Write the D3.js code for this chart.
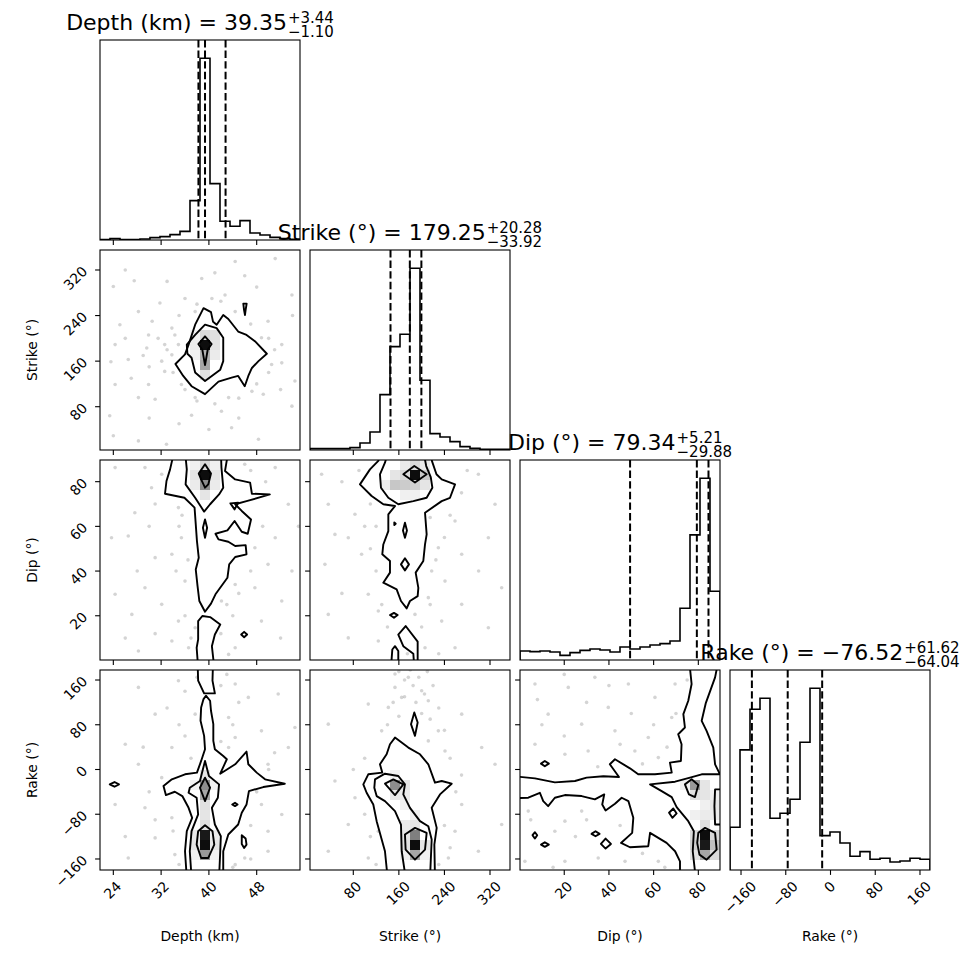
<!DOCTYPE html>
<html><head><meta charset="utf-8">
<script src="https://cdn.jsdelivr.net/npm/d3@7"></script>
<style>body{margin:0;background:#fff}text{font-family:"DejaVu Sans",sans-serif;fill:#000}</style>
</head><body>
<svg id="chart" width="970" height="970"></svg>
<script>
// ---------------- data ----------------
const varNames = ["Depth (km)", "Strike (°)", "Dip (°)", "Rake (°)"];
const varRanges = [[21.77, 55.25], [4.0, 355.1], [0.2, 89.7], [-179.7, 177.9]];
const tickVals = [[24, 32, 40, 48], [80, 160, 240, 320], [20, 40, 60, 80], [-160, -80, 0, 80, 160]];
const tickLabels = [["24", "32", "40", "48"], ["80", "160", "240", "320"], ["20", "40", "60", "80"], ["−160", "−80", "0", "80", "160"]];
const medians = [39.35, 179.25, 79.34, -76.52];
const errPlus = [3.44, 20.28, 5.21, 61.62];
const errMinus = [1.10, 33.92, 29.88, 64.04];
const medianText = ["39.35", "179.25", "79.34", "−76.52"];
const plusText = ["3.44", "20.28", "5.21", "61.62"];
const minusText = ["1.10", "33.92", "29.88", "64.04"];

const histDepth  = [1, 4, 1, 1, 3, 7, 10, 16, 26, 118, 545, 169, 56, 41, 58, 21, 15, 8, 4, 2];
const histStrike = [4, 4, 4, 4, 7, 21, 54, 166, 310, 347, 545, 209, 49, 39, 25, 10, 5, 2, 2, 2];
const histDip    = [27, 25, 27, 24, 14, 22, 29, 33, 30, 24, 39, 33, 39, 45, 49, 57, 155, 375, 545, 206];
const histRake   = [128, 360, 482, 515, 155, 170, 212, 383, 545, 103, 114, 81, 41, 55, 32, 35, 24, 27, 35, 32];

// scatter samples (x value, y value)
const ptsDepthStrike = [[26.0,320],[27.5,301],[24.0,291],[28.2,247],[25.1,224],[24.3,189],[23.6,159],[26.5,163],[29.6,183],[32.6,189],[34.3,206],[32.6,142],[29.9,119],[24.3,119],[28.2,96],[23.4,64],[24.0,29],[28.2,20],[32.9,14],[37.1,65],[43.8,43],[48.3,23],[53.9,81],[54.4,125],[52.2,189],[53.9,276],[51.1,340],[44.4,335],[38.8,305],[42.7,276],[36.0,270],[31.8,262],[49.9,230],[52.2,157],[49.1,102],[42.1,72],[31.0,93],[33.8,171],[34.9,189],[32.1,160],[35.4,119],[37.7,96],[43.3,96],[47.2,107],[50.5,154],[48.8,201],[44.4,247],[37.7,247],[40.5,270],[33.8,218],[29.9,206],
  [30.5,230],[31.5,200],[33.0,180],[34.0,140],[36.0,110],[38.0,90],[41.0,85],[45.0,95],[48.0,120],[50.0,140],[51.0,180],[50.0,200],[47.0,225],[42.0,265],[38.0,260],[35.0,240],[30.0,150],[27.0,130],[26.0,200],[29.0,170],[52.0,110],[45.0,60],[35.0,50],[40.0,40],[30.0,60],[48.0,290],[33.0,300],[46.0,310],[41.0,315],[54.0,240]];
const ptsDepthDip = [[24.3,86.3],[30.4,77.3],[27.6,66.1],[23.7,54.9],[26.5,55.7],[31.0,46.0],[33.8,47.5],[29.3,32.5],[24.3,29.6],[27.1,20.6],[32.1,25.1],[34.9,17.6],[33.8,8.7],[28.2,4.2],[36.6,5.7],[44.4,5.7],[48.8,17.6],[52.2,26.6],[53.9,40.0],[51.1,54.9],[53.3,69.9],[51.1,86.3],[46.0,87.8],[47.7,50.4],[44.4,34.0],[42.1,26.6],[36.0,35.5],[35.4,54.9],[34.9,68.4],[32.1,83.3],[29.3,86.3],[49.9,43.0],[47.7,32.5],[37.7,14.6],[43.3,2.7],
  [35.0,60],[34.5,40],[36.0,20],[37.0,10],[42.0,12],[43.0,25],[45.0,30],[36.5,45],[35.5,65],[42.0,65],[43.0,45],[44.0,20],[47.0,40],[49.0,60],[49.5,80],[31.0,70],[30.0,60],[28.0,40],[26.0,10],[31.0,12],[45.0,75],[47.0,85],[52.0,10],[55.0,60],[40.0,2]];
const ptsStrikeDip = [[24.4,83.3],[36.1,69.9],[47.8,56.4],[30.2,43.0],[71.2,54.9],[94.6,47.5],[106.3,29.6],[36.1,20.6],[71.2,10.1],[123.9,8.7],[123.9,22.1],[188.3,20.6],[211.7,28.1],[241.0,35.5],[270.3,47.5],[317.1,54.9],[328.8,69.9],[299.6,83.3],[258.6,62.4],[229.3,50.4],[217.6,40.0],[270.3,25.1],[317.1,14.6],[258.6,5.7],[205.9,5.7],[164.9,32.5],[82.9,65.4],[340.5,32.5],[235.2,17.6],[153.2,47.5],
  [100,60],[110,50],[120,40],[130,25],[140,15],[180,10],[200,15],[215,25],[225,45],[240,55],[250,65],[270,75],[280,85],[110,70],[90,85],[60,80],[150,2],[175,3],[230,3],[300,40],[120,60],[200,60],[215,64],[185,50],[60,30]];
const ptsDepthRake = [[28.2,146.8],[34.9,158.8],[44.4,152.8],[51.6,134.9],[31.0,99.0],[43.3,93.0],[48.8,69.1],[26.0,45.2],[33.8,39.2],[44.4,57.1],[49.9,9.3],[28.2,9.3],[24.3,-62.5],[29.3,-68.5],[33.8,-86.4],[31.0,-122.3],[34.3,-152.2],[26.5,-158.2],[46.0,-158.2],[49.9,-146.2],[52.2,-80.4],[48.8,-62.5],[43.3,39.2],[37.7,99.0],[46.6,128.9],[54.4,75.1],[49.9,-110.3],[32.1,-14.6],[53.3,39.2],[44.4,-170.1],
  [35,80],[36,60],[37,20],[42,50],[44,80],[45,120],[42,150],[36,140],[33,110],[30,-40],[31,-90],[34,-110],[35,-170],[38,-175],[44,-175],[47,-100],[48,-40],[50,0],[51,30],[44,-30],[47,-160],[29,40],[38,165],[43,170],[26,-120]];
const ptsStrikeRake = [[176.6,164.8],[153.2,146.8],[200.0,140.9],[141.5,111.0],[211.7,122.9],[188.3,69.1],[106.3,116.9],[36.1,81.1],[270.3,99.0],[305.4,39.2],[241.0,33.2],[47.8,-20.6],[83.0,-50.5],[71.2,-98.4],[36.1,-146.2],[106.3,-158.2],[270.3,-62.5],[258.6,-110.3],[299.6,-146.2],[340.5,-98.4],[328.8,9.3],[129.8,69.1],[229.3,69.1],[246.9,-158.2],[123.9,-110.3],[211.7,51.1],[164.9,128.9],[153.2,170.8],
  [160,175],[170,160],[185,150],[195,165],[210,175],[220,150],[170,130],[150,120],[200,100],[230,110],[190,120],[215,90],[160,95],[140,80],[240,70],[250,20],[100,20],[80,0],[260,-40],[270,-10],[100,-80],[110,-120],[240,-100],[250,-140],[120,-170],[230,-170],[180,178],[205,135]];
const ptsDipRake = [[6.9,152.8],[21.8,146.8],[33.7,164.8],[48.7,152.8],[60.6,128.9],[68.1,93.0],[12.8,99.0],[27.8,81.1],[42.7,69.1],[57.6,57.1],[6.9,45.2],[20.3,27.2],[30.7,33.2],[51.6,33.2],[62.1,21.3],[3.9,-74.4],[20.3,-92.4],[27.8,-74.4],[2.4,-164.2],[20.3,-164.2],[35.2,-158.2],[47.2,-164.2],[62.1,-164.2],[57.6,-92.4],[15.8,-110.3],[81.5,39.2],[80.0,99.0],[86.6,152.8],[69.6,152.8],[39.7,111.0],
  [10,80],[20,60],[30,120],[40,150],[50,100],[60,80],[66,40],[5,-90],[25,-120],[45,-100],[55,-150],[65,-175],[15,-175],[30,-90],[70,100],[75,160],[85,175],[20,170],[8,125],[35,5],[55,10],[45,45]];

// 2D histogram density cells: [x bin, y bin, darkness]
const cellsDepthStrike = [[10,10,0.95],[10,9,0.3],[10,8,0.35],[10,7,0.12],[10,11,0.15],[11,11,0.12],[11,10,0.1],[11,9,0.08],[9,10,0.08],[9,9,0.06],[9,11,0.05]];
const cellsDepthDip = [[10,18,0.95],[10,17,0.45],[10,19,0.15],[10,16,0.1],[9,18,0.1],[11,18,0.1],[9,17,0.08],[11,17,0.08],[9,19,0.06],[11,19,0.06]];
const cellsStrikeDip = [[10,18,0.95],[8,17,0.22],[9,17,0.2],[10,17,0.18],[11,18,0.22],[9,18,0.15],[10,19,0.15],[11,17,0.1],[8,18,0.1],[7,17,0.08],[9,19,0.08],[11,19,0.08],[9,16,0.06],[10,16,0.06]];
const cellsDepthRake = [[10,2,0.95],[10,3,0.9],[10,1,0.4],[10,4,0.12],[10,5,0.1],[10,6,0.12],[10,7,0.35],[10,8,0.45],[10,9,0.1],[9,2,0.1],[11,2,0.1],[9,3,0.08],[11,3,0.08],[9,1,0.06],[11,1,0.06],[9,8,0.06],[11,8,0.06]];
const cellsStrikeRake = [[10,2,0.95],[10,3,0.5],[10,1,0.35],[9,2,0.12],[11,2,0.1],[9,3,0.1],[10,4,0.1],[9,4,0.08],[8,8,0.45],[8,7,0.1],[9,8,0.1],[8,9,0.06],[9,7,0.08],[9,6,0.06],[10,5,0.06],[11,1,0.06],[9,1,0.06]];
const cellsDipRake = [[18,3,0.95],[18,2,0.9],[18,1,0.35],[17,2,0.2],[19,2,0.25],[17,3,0.15],[19,3,0.15],[19,1,0.15],[17,1,0.12],[18,4,0.12],[17,8,0.4],[17,7,0.12],[18,8,0.1],[18,7,0.1],[19,6,0.1],[19,5,0.08],[17,5,0.06],[18,5,0.08],[18,6,0.06],[16,8,0.06],[19,7,0.06]];

// contour rings: [level, vertices in data units]
const contDepthStrike = [
  [1, [[39.1,253],[40.35,246],[40.7,229],[41.3,224],[42.4,241],[43.25,234],[44.9,212],[46.3,206],[47.7,195],[49.7,173],[48.3,160],[47.2,148],[46.6,134],[46.0,116],[44.9,134],[43.8,131],[41.6,124],[39.35,102],[37.1,116],[35.7,134],[34.4,155],[36.0,172],[36.6,189],[37.7,224]]],
  [1, [[45.76,261],[46.32,261],[46.15,250],[46.04,241],[45.88,250]]],
  [2, [[39.35,224],[41.3,218],[42.4,201],[42.4,160],[41.9,145],[39.35,125],[37.7,140],[37.1,166],[36.4,173],[36.3,189],[37.7,206]]],
  [3, [[39.35,203.5],[40.46,190],[39.8,180],[39.35,153],[38.9,180],[38.23,190]]]
];
const contDepthDip = [
  [1, [[34.2,93.7],[33.5,85.5],[32.9,80.3],[32.65,74.6],[35.9,72.8],[37.6,68.4],[37.8,60.9],[38.0,53.4],[38.3,46.0],[37.8,40.7],[38.1,33.3],[38.4,26.6],[39.35,21.8],[40.35,25.4],[41.1,29.6],[43.1,37.0],[43.4,43.0],[44.4,46.3],[46.3,47.5],[46.15,51.6],[44.4,51.2],[43.25,53.1],[41.6,54.2],[41.1,56.7],[43.1,58.2],[44.3,62.4],[45.5,57.6],[46.5,56.7],[47.05,63.1],[45.5,66.9],[44.4,69.9],[46.3,71.3],[50.2,74.3],[47.2,74.6],[46.9,79.6],[44.4,81.0],[42.7,84.8],[43.25,93.7]]],
  [1, [[38.2,-3.3],[37.95,5.7],[38.2,9.4],[38.2,17.6],[38.9,19.9],[40.2,19.4],[41.9,16.1],[41.0,11.6],[40.5,6.4],[40.9,-3.3]]],
  [1, [[45.4,11.6],[45.9,12.8],[46.4,11.6],[45.9,10.4]]],
  [2, [[36.0,93.7],[36.3,85.5],[36.1,78.8],[37.7,72.8],[39.2,66.6],[40.2,69.9],[41.7,74.3],[42.4,77.3],[42.25,81.8],[42.1,86.3],[42.0,93.7]]],
  [2, [[39.35,63.1],[39.7,59.4],[39.35,54.9],[39.0,59.4]]],
  [2, [[43.6,70.3],[44.9,70.6],[44.3,67.6]]],
  [3, [[39.35,87.8],[40.35,83.6],[39.9,78.8],[39.35,77.3],[38.7,81.0],[38.3,83.6]]]
];
const contStrikeDip = [
  [1, [[129.8,93.7],[123.9,89.3],[109.3,85.5],[91.7,78.8],[112.2,73.6],[132.7,69.9],[153.2,69.1],[141.5,65.4],[141.5,57.9],[132.7,51.9],[130.9,47.5],[144.4,44.5],[144.4,39.3],[132.7,34.8],[156.1,31.8],[163.7,26.6],[173.7,23.3],[179.5,26.6],[193.0,28.8],[194.2,32.5],[189.5,39.3],[202.9,44.5],[205.9,51.9],[208.8,56.4],[205.9,66.1],[235.2,71.3],[249.8,72.8],[258.6,78.8],[235.2,81.0],[226.0,83.3],[218.0,89.3],[218.0,93.7]]],
  [1, [[144.4,20.3],[151.4,21.3],[157.9,20.3],[151.4,19.1]]],
  [1, [[159.0,11.6],[171.9,15.4],[193.0,8.4],[193.0,-3.3],[187.1,-3.3],[185.4,3.0],[167.8,6.4]]],
  [1, [[146.2,-3.3],[148.5,4.9],[153.2,6.4],[159.0,4.2],[159.0,-3.3]]],
  [2, [[141.5,93.7],[135.6,88.5],[126.8,83.3],[128.6,77.3],[141.5,72.8],[159.0,69.9],[185.4,71.3],[208.8,72.8],[218.8,77.3],[216.0,82.0],[208.0,87.0],[203.0,93.7]]],
  [2, [[152.0,61.8],[154.5,61.2],[152.0,60.6]]],
  [2, [[170.7,61.6],[174.2,58.2],[170.7,54.9],[167.2,58.2]]],
  [2, [[170.7,45.7],[177.7,43.0],[170.7,40.3],[163.7,43.0]]],
  [3, [[187.1,87.0],[208.8,83.3],[188.3,79.6],[167.8,83.3]]]
];
const contDepthRake = [
  [1, [[38.1,194.7],[38.2,158.8],[39.2,136.1],[41.0,136.1],[40.6,158.8],[40.7,194.7]]],
  [1, [[39.5,131.9],[40.2,122.9],[40.35,105.0],[40.74,81.1],[40.74,51.1],[41.0,36.2],[42.4,24.2],[43.0,18.3],[41.9,-7.5],[44.4,9.3],[46.3,32.0],[46.6,9.3],[48.0,-5.6],[49.4,-17.6],[52.7,-25.4],[49.1,-31.4],[46.7,-38.6],[46.3,-62.5],[45.5,-77.4],[44.9,-98.4],[43.25,-116.3],[42.4,-146.2],[42.4,-194.1],[36.3,-194.1],[36.0,-146.2],[36.3,-110.3],[37.2,-86.4],[36.6,-68.5],[35.55,-47.5],[34.3,-39.8],[32.8,-45.7],[32.4,-29.6],[33.8,-17.6],[36.0,-8.6],[38.0,-5.6],[38.7,15.3],[39.35,36.2],[39.2,60.1],[38.6,87.0],[38.7,111.0],[39.1,125.9]]],
  [1, [[23.4,-26.6],[24.2,-22.4],[24.95,-26.6],[24.2,-30.8]]],
  [1, [[45.5,-117.5],[46.15,-123.5],[46.3,-134.3],[45.9,-140.2],[45.5,-133.1]]],
  [2, [[43.9,-62.5],[44.37,-59.5],[44.8,-62.5],[44.37,-65.5]]],
  [2, [[36.8,-32.6],[38.5,-20.6],[39.35,15.3],[40.0,-11.6],[41.7,-26.6],[41.5,-50.5],[40.5,-68.5],[41.0,-98.4],[42.0,-119.3],[41.9,-146.2],[41.7,-194.1],[37.1,-194.1],[36.8,-146.2],[37.1,-110.3],[38.2,-80.4],[37.95,-50.5],[36.6,-41.6]]],
  [3, [[39.35,-14.6],[40.2,-32.6],[39.35,-56.5],[38.5,-32.6]]],
  [3, [[39.35,-99.6],[40.6,-110.3],[40.9,-134.3],[39.9,-158.2],[38.7,-158.2],[37.95,-134.3],[38.2,-110.3]]]
];
const contStrikeRake = [
  [1, [[187.1,102.0],[193.0,84.0],[188.3,60.1],[181.3,81.1]]],
  [1, [[153.2,57.1],[176.6,39.2],[197.1,27.2],[211.7,9.3],[223.4,-23.6],[235.2,-20.6],[252.7,-25.4],[232.2,-44.5],[217.6,-68.5],[226.4,-104.4],[222.3,-134.3],[223.4,-194.1],[140.3,-194.1],[135.6,-146.2],[121.0,-92.4],[115.1,-62.5],[103.4,-41.6],[97.6,-26.6],[106.3,-8.6],[130.9,-5.6],[126.8,9.3],[138.5,27.2],[144.4,45.2]]],
  [2, [[118.1,-17.6],[135.6,-7.5],[159.0,-11.6],[170.7,-26.6],[167.8,-44.5],[179.5,-68.5],[197.1,-92.4],[211.7,-101.4],[217.6,-125.3],[214.7,-194.1],[172.0,-194.1],[165.0,-146.2],[163.7,-98.4],[153.2,-74.4],[135.6,-56.5],[121.0,-47.5],[116.9,-32.6]]],
  [3, [[150.3,-17.6],[167.8,-26.6],[153.2,-45.7],[135.6,-25.4]]],
  [3, [[188.3,-104.4],[208.8,-113.3],[205.9,-143.2],[188.3,-161.2],[171.9,-143.2],[170.7,-116.3]]]
];
const contDipRake = [
  [1, [[-3.6,-11.6],[6.9,-15.8],[15.8,-23.0],[24.8,-20.6],[30.0,-14.6],[37.5,-12.2],[44.5,-13.4],[40.4,9.3],[42.7,18.3],[49.4,2.1],[53.1,-8.6],[60.6,-8.6],[68.1,-5.6],[67.3,12.3],[72.2,15.3],[72.5,45.2],[71.0,63.1],[74.0,75.1],[73.3,99.0],[75.5,122.9],[77.0,152.8],[76.3,179.7],[76.3,194.7],[94.9,194.7],[94.9,-200],[71.8,-200],[71.8,-164.2],[69.6,-146.2],[65.8,-131.3],[62.1,-122.3],[58.4,-113.3],[57.6,-137.2],[49.4,-139.0],[45.4,-131.3],[50.4,-113.3],[50.9,-86.4],[48.7,-56.5],[45.7,-50.5],[42.7,-61.3],[38.5,-73.2],[37.0,-62.5],[37.9,-44.5],[33.7,-53.5],[27.8,-47.5],[20.3,-45.7],[15.8,-50.5],[12.8,-65.5],[10.6,-56.5],[9.1,-41.6],[3.9,-50.5],[-3.6,-51.7]]],
  [1, [[9.6,10.5],[11.3,15.3],[13.1,10.5],[11.3,5.7]]],
  [1, [[5.8,-117.5],[6.9,-112.1],[7.9,-117.5],[6.9,-123.5]]],
  [1, [[9.6,-134.3],[11.3,-130.1],[13.1,-134.3],[11.3,-138.4]]],
  [1, [[32.2,-115.1],[34.0,-110.3],[35.8,-115.1],[34.0,-119.3]]],
  [1, [[36.4,-133.1],[38.5,-123.5],[40.9,-133.1],[38.5,-141.4]]],
  [2, [[89.0,194.7],[87.5,164.8],[83.3,118.1],[81.5,87.0],[83.7,69.1],[86.7,39.2],[87.5,9.3],[89.7,-8.6],[81.5,-8.6],[76.3,-14.6],[69.6,-21.8],[58.4,-26.6],[63.6,-38.6],[68.1,-49.3],[70.3,-67.3],[75.5,-92.4],[78.0,-110.3],[77.5,-146.2],[79.0,-200],[94.9,-200],[94.9,194.7]]],
  [2, [[66.9,-77.4],[68.8,-69.7],[70.3,-78.6],[68.4,-86.4]]],
  [3, [[74.0,-26.6],[77.0,-17.6],[80.0,-27.8],[78.5,-49.3],[75.8,-44.5]]],
  [3, [[94.9,-35.6],[87.5,-35.6],[87.2,-65.5],[87.5,-98.4],[94.9,-98.4]]],
  [3, [[80.0,-113.3],[83.0,-104.4],[87.5,-113.3],[88.2,-143.2],[83.7,-161.2],[80.5,-152.2],[79.5,-131.3]]]
];

const hists = [histDepth, histStrike, histDip, histRake];
const pairs = [
  {c: 0, r: 1, pts: ptsDepthStrike, cells: cellsDepthStrike, cont: contDepthStrike},
  {c: 0, r: 2, pts: ptsDepthDip, cells: cellsDepthDip, cont: contDepthDip},
  {c: 1, r: 2, pts: ptsStrikeDip, cells: cellsStrikeDip, cont: contStrikeDip},
  {c: 0, r: 3, pts: ptsDepthRake, cells: cellsDepthRake, cont: contDepthRake},
  {c: 1, r: 3, pts: ptsStrikeRake, cells: cellsStrikeRake, cont: contStrikeRake},
  {c: 2, r: 3, pts: ptsDipRake, cells: cellsDipRake, cont: contDipRake}
];

// ---------------- layout ----------------
const PL = 100, PT = 40, PS = 200, PG = 10, NB = 20;
const TICKLEN = 4.9, TICKPAD = 4.9, FS = 13.9, ASC = 10.6, DESC = 2.9;
const svg = d3.select("#chart");
const xs = varRanges.map(d => d3.scaleLinear().domain(d).range([0, PS]));
const ys = varRanges.map(d => d3.scaleLinear().domain(d).range([PS, 0]));
const edge = (v, k) => varRanges[v][0] + k * (varRanges[v][1] - varRanges[v][0]) / NB;
const S45 = Math.SQRT1_2;

function panel(r, c) {
  const g = svg.append("g").attr("transform", `translate(${PL + c * (PS + PG)},${PT + r * (PS + PG)})`);
  const id = `clip${r}${c}`;
  g.append("clipPath").attr("id", id).append("rect").attr("width", PS).attr("height", PS);
  const inner = g.append("g").attr("clip-path", `url(#${id})`);
  return {g, inner};
}

function xTicks(g, v, withLabels) {
  tickVals[v].forEach((t, k) => {
    const x = xs[v](t);
    g.append("line").attr("x1", x).attr("x2", x).attr("y1", PS).attr("y2", PS + TICKLEN)
      .attr("stroke", "#000").attr("stroke-width", 1.1);
    if (withLabels) {
      const txt = g.append("text").attr("font-size", FS).text(tickLabels[v][k]);
      const w = txt.node().getComputedTextLength();
      const px = x - S45 * (w + DESC - ASC) / 2;
      const py = PS + TICKLEN + TICKPAD + S45 * (w + ASC);
      txt.attr("transform", `translate(${px},${py}) rotate(-45)`);
    }
  });
}
function yTicks(g, v, withLabels) {
  tickVals[v].forEach((t, k) => {
    const y = ys[v](t);
    g.append("line").attr("x1", 0).attr("x2", -TICKLEN).attr("y1", y).attr("y2", y)
      .attr("stroke", "#000").attr("stroke-width", 1.1);
    if (withLabels) {
      const txt = g.append("text").attr("font-size", FS).text(tickLabels[v][k]);
      const w = txt.node().getComputedTextLength();
      const px = -TICKLEN - TICKPAD - S45 * (w + DESC);
      const py = y - ASC / 2 + S45 * (w + ASC);
      txt.attr("transform", `translate(${px},${py}) rotate(-45)`);
    }
  });
}
function frame(g) {
  g.append("rect").attr("width", PS).attr("height", PS).attr("fill", "none")
    .attr("stroke", "#000").attr("stroke-width", 1.1);
}

// ---------------- diagonal histograms ----------------
for (let i = 0; i < 4; i++) {
  const {g, inner} = panel(i, i);
  const h = hists[i];
  const yh = d3.scaleLinear().domain([0, 1.1 * d3.max(h)]).range([PS, 0]);
  const pts = [[edge(i, 0), 0]];
  h.forEach((v, k) => { pts.push([edge(i, k), v]); pts.push([edge(i, k + 1), v]); });
  pts.push([edge(i, NB), 0]);
  const line = d3.line().x(d => xs[i](d[0])).y(d => yh(d[1]));
  inner.append("path").attr("d", line(pts)).attr("fill", "none").attr("stroke", "#000")
    .attr("stroke-width", 1.6).attr("stroke-linejoin", "miter");
  const qs = [medians[i] - errMinus[i], medians[i], medians[i] + errPlus[i]];
  qs.forEach(q => {
    inner.append("line").attr("x1", xs[i](q)).attr("x2", xs[i](q)).attr("y1", 0).attr("y2", PS)
      .attr("stroke", "#000").attr("stroke-width", 2).attr("stroke-dasharray", "7.4,3.2");
  });
  frame(g);
  xTicks(g, i, i === 3);
  // title
  const main = g.append("text").attr("font-size", 22).text(`${varNames[i]} = ${medianText[i]}`);
  const sup = g.append("text").attr("font-size", 15).text("+" + plusText[i]);
  const sub = g.append("text").attr("font-size", 15).text("−" + minusText[i]);
  const w1 = main.node().getComputedTextLength();
  const w2 = Math.max(sup.node().getComputedTextLength(), sub.node().getComputedTextLength());
  const x0 = PS / 2 - (w1 + 1 + w2) / 2;
  main.attr("x", x0).attr("y", -10);
  sup.attr("x", x0 + w1 + 1).attr("y", -17);
  sub.attr("x", x0 + w1 + 1).attr("y", -3.5);
  if (i === 3) {
    g.append("text").attr("font-size", FS).attr("text-anchor", "middle")
      .attr("x", PS / 2).attr("y", PS + 71).text(varNames[i]);
  }
}

// ---------------- 2D panels ----------------
const ring = d3.line().curve(d3.curveLinearClosed);
pairs.forEach(p => {
  const {g, inner} = panel(p.r, p.c);
  const X = xs[p.c], Y = ys[p.r];
  inner.selectAll("circle").data(p.pts).join("circle")
    .attr("cx", d => X(d[0])).attr("cy", d => Y(d[1])).attr("r", 1.8)
    .attr("fill", "#000").attr("fill-opacity", 0.17);
  const toPx = ptsD => ptsD.map(d => [X(d[0]), Y(d[1])]);
  p.cont.filter(c => c[0] === 1).forEach(c => {
    inner.append("path").attr("d", ring(toPx(c[1]))).attr("fill", "#fff").attr("stroke", "none");
  });
  p.cells.forEach(c => {
    const x1 = X(edge(p.c, c[0])), x2 = X(edge(p.c, c[0] + 1));
    const y1 = Y(edge(p.r, c[1] + 1)), y2 = Y(edge(p.r, c[1]));
    inner.append("rect").attr("x", x1).attr("y", y1).attr("width", x2 - x1).attr("height", y2 - y1)
      .attr("fill", "#000").attr("fill-opacity", c[2]);
  });
  p.cont.forEach(c => {
    inner.append("path").attr("d", ring(toPx(c[1]))).attr("fill", "none")
      .attr("stroke", "#000").attr("stroke-width", 1.9).attr("stroke-linejoin", "round");
  });
  frame(g);
  xTicks(g, p.c, p.r === 3);
  yTicks(g, p.r, p.c === 0);
  if (p.r === 3) {
    g.append("text").attr("font-size", FS).attr("text-anchor", "middle")
      .attr("x", PS / 2).attr("y", PS + 71).text(varNames[p.c]);
  }
  if (p.c === 0) {
    g.append("text").attr("font-size", FS).attr("text-anchor", "middle")
      .attr("transform", `translate(-63,${PS / 2}) rotate(-90)`).text(varNames[p.r]);
  }
});
</script>
</body></html>
